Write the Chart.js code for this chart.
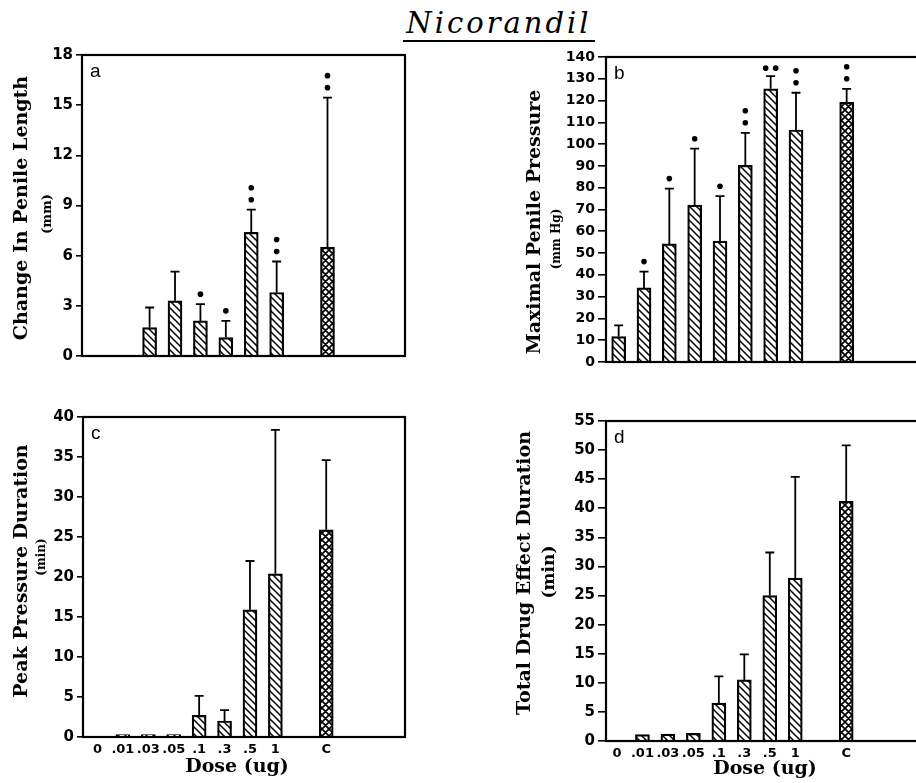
<!DOCTYPE html>
<html>
<head>
<meta charset="utf-8">
<script src="https://cdn.jsdelivr.net/npm/chart.js@4.4.1/dist/chart.umd.min.js"></script>
<style>
html, body { margin: 0; padding: 0; background: #fff; width: 916px; height: 783px; overflow: hidden; }
canvas { position: absolute; }
#title {
  position: absolute; left: 403px; top: 6px; width: 192px; text-align: center;
  font: italic 29px "DejaVu Serif", serif; color: #000; line-height: 34px;
  border-bottom: 2.5px solid #000; letter-spacing: 3px;
}
</style>
</head>
<body>
<div id="title">Nicorandil</div>
<canvas id="panelA" width="460" height="350" style="left:0;top:40px"></canvas>
<canvas id="panelB" width="480" height="350" style="left:460px;top:40px"></canvas>
<canvas id="panelC" width="460" height="383" style="left:0;top:400px"></canvas>
<canvas id="panelD" width="480" height="383" style="left:460px;top:400px"></canvas>
<script>
// x positions: doses 0..7, one empty slot, then control C
const doseLabels = ['0', '.01', '.03', '.05', '.1', '.3', '.5', '1', '', 'C'];
const barSlots = [0, 1, 2, 3, 4, 5, 6, 7, 9];

// a - change in penile length (mm)
const lengthMean = [null, null, 1.7, 3.3, 2.1, 1.1, 7.4, 3.8, 6.5];
const lengthErr = [null, null, 2.9, 5.05, 3.1, 2.1, 8.75, 5.65, 15.45];
const lengthStars = [0, 0, 0, 0, 1, 1, 2, 2, 2];

// b - maximal penile pressure (mm Hg)
const pressureMean = [11.7, 34, 54.2, 72, 55.5, 90.3, 125.4, 106.5, 119.2];
const pressureErr = [16.8, 41.5, 79.6, 97.9, 76.1, 105.2, 131.2, 123.6, 125.4];
const pressureStars = [0, 1, 1, 1, 1, 2, 2, 2, 2];
const pressureStarsSideBySide = [false, false, false, false, false, false, true, false, false];

// c - peak pressure duration (min)
const peakMean = [null, 0.3, 0.3, 0.3, 2.7, 2.0, 15.9, 20.4, 25.9];
const peakErr = [null, null, null, null, 5.15, 3.35, 22.0, 38.4, 34.6];

// d - total drug effect duration (min)
const totalMean = [null, 1.1, 1.2, 1.3, 6.5, 10.5, 25.0, 28.0, 41.2];
const totalErr = [null, null, null, null, 11.1, 14.9, 32.4, 45.4, 50.8];

function makePattern(cross) {
  const s = 7;
  const c = document.createElement('canvas');
  c.width = s; c.height = s;
  const g = c.getContext('2d');
  g.fillStyle = '#fff';
  g.fillRect(0, 0, s, s);
  g.strokeStyle = '#000';
  g.lineWidth = cross ? 1.7 : 1.5;
  g.beginPath();
  g.moveTo(-1, -1); g.lineTo(s + 1, s + 1);
  g.moveTo(-1, s - 1); g.lineTo(1, s + 1);
  g.moveTo(s - 1, -1); g.lineTo(s + 1, 1);
  if (cross) {
    g.moveTo(s + 1, -1); g.lineTo(-1, s + 1);
    g.moveTo(-1, 1); g.lineTo(1, -1);
    g.moveTo(s - 1, s + 1); g.lineTo(s + 1, s - 1);
  }
  g.stroke();
  return g.createPattern(c, 'repeat');
}
const doseFill = makePattern(false);
const ctrlFill = makePattern(true);

const tickFont = { family: '"DejaVu Sans", sans-serif', weight: 'bold', size: 15 };
const titleFont = 'bold 19px "DejaVu Serif", serif';

function makeChart(id, p) {
  const canvas = document.getElementById(id);
  const W = canvas.width, H = canvas.height;
  const pts = [];
  p.means.forEach((m, i) => { if (m != null) pts.push({ x: barSlots[i], y: m }); });
  const fills = [];
  p.means.forEach((m, i) => { if (m != null) fills.push(barSlots[i] === 9 ? ctrlFill : doseFill); });

  const deco = {
    id: 'deco',
    afterDatasetsDraw(chart) {
      const { ctx, chartArea: a, scales: { x, y } } = chart;
      ctx.save();
      ctx.strokeStyle = '#000';
      ctx.fillStyle = '#000';
      // error bars (upper only) and significance dots
      p.means.forEach((m, i) => {
        if (m == null) return;
        const cx = x.getPixelForValue(barSlots[i]);
        let top = y.getPixelForValue(m);
        const e = p.errs[i];
        if (e != null) {
          const ye = y.getPixelForValue(e);
          ctx.lineWidth = 1.8;
          ctx.beginPath();
          ctx.moveTo(cx, top); ctx.lineTo(cx, ye);
          ctx.moveTo(cx - 4.5, ye); ctx.lineTo(cx + 4.5, ye);
          ctx.stroke();
          top = ye;
        }
        const n = p.stars ? p.stars[i] : 0;
        for (let k = 0; k < n; k++) {
          let sx = cx, sy = top - 10 - k * 12;
          if (p.side && p.side[i]) { sx = cx - 5 + k * 10; sy = top - 8; }
          ctx.beginPath();
          ctx.arc(sx, sy, 2.8, 0, Math.PI * 2);
          ctx.fill();
        }
      });
      // frame
      ctx.lineWidth = 2.2;
      ctx.strokeRect(a.left, a.top, a.right - a.left, a.bottom - a.top);
      // panel letter
      ctx.font = '19px "Liberation Sans Narrow", "Liberation Sans", sans-serif';
      ctx.textAlign = 'left';
      ctx.textBaseline = 'top';
      ctx.fillText(p.letter, a.left + 8, a.top + 7);
      // y titles
      ctx.textAlign = 'center';
      ctx.textBaseline = 'middle';
      ctx.save();
      ctx.translate(p.titleX, p.titleY);
      ctx.rotate(-Math.PI / 2);
      ctx.font = titleFont;
      ctx.fillText(p.yTitle, 0, 0);
      ctx.restore();
      ctx.save();
      ctx.translate(p.unitX, p.unitY);
      ctx.rotate(-Math.PI / 2);
      ctx.font = 'bold ' + p.unitSize + 'px "DejaVu Serif", serif';
      ctx.fillText(p.yUnit, 0, 0);
      ctx.restore();
      if (p.showX) {
        ctx.font = 'bold 19px "DejaVu Serif", serif';
        ctx.fillText('Dose (ug)', p.doseX, p.doseY);
      }
      ctx.restore();
    }
  };

  return new Chart(canvas, {
    type: 'bar',
    data: {
      datasets: [{
        data: pts,
        backgroundColor: fills,
        borderColor: '#000',
        borderWidth: 2.2,
        barThickness: 14
      }]
    },
    options: {
      responsive: false,
      animation: false,
      devicePixelRatio: 1,
      layout: { padding: { left: 0, top: p.area.t, right: W - p.area.r, bottom: p.showX ? 0 : H - p.area.b } },
      plugins: { legend: { display: false }, tooltip: { enabled: false } },
      scales: {
        x: {
          type: 'linear',
          display: p.showX,
          offset: false,
          min: p.xMin,
          max: p.xMax,
          grid: { display: false, drawTicks: false, offset: false },
          border: { display: false },
          ticks: {
            stepSize: 1,
            autoSkip: false,
            maxRotation: 0,
            includeBounds: false,
            padding: 5,
            color: '#000',
            font: { family: '"DejaVu Sans", sans-serif', weight: 'bold', size: 13 },
            callback: v => (Number.isInteger(v) && doseLabels[v] !== undefined) ? doseLabels[v] : ''
          },
          afterFit: s => { s.height = H - p.area.b; }
        },
        y: {
          min: 0,
          max: p.yMax,
          grid: { drawOnChartArea: false, drawTicks: true, tickLength: p.tickLen, color: '#000', lineWidth: 1.6 },
          border: { display: false },
          ticks: { stepSize: p.yStep, autoSkip: false, padding: 3, color: '#000', font: { ...tickFont, size: p.tickSize } },
          afterFit: s => { s.width = p.area.l; }
        }
      }
    },
    plugins: [deco]
  });
}

makeChart('panelA', {
  area: { l: 82, t: 15, r: 405, b: 333 },
  xMin: -0.66, xMax: 12.05, yMax: 18, yStep: 3, tickLen: 6, tickSize: 15,
  means: lengthMean, errs: lengthErr, stars: lengthStars,
  letter: 'a', showX: false,
  yTitle: 'Change In Penile Length', titleX: 22, titleY: 168,
  yUnit: '(mm)', unitX: 48, unitY: 174, unitSize: 13
});

makeChart('panelB', {
  area: { l: 146, t: 17, r: 469, b: 336 },
  xMin: -0.5, xMax: 12.25, yMax: 140, yStep: 10, tickLen: 8, tickSize: 14,
  means: pressureMean, errs: pressureErr, stars: pressureStars, side: pressureStarsSideBySide,
  letter: 'b', showX: false,
  yTitle: 'Maximal Penile Pressure', titleX: 75, titleY: 182,
  yUnit: '(mm Hg)', unitX: 97, unitY: 199, unitSize: 12
});

makeChart('panelC', {
  area: { l: 83, t: 17, r: 405, b: 337 },
  xMin: -0.57, xMax: 12.1, yMax: 40, yStep: 5, tickLen: 6, tickSize: 15,
  means: peakMean, errs: peakErr, stars: null,
  letter: 'c', showX: true, doseX: 237, doseY: 367,
  yTitle: 'Peak Pressure Duration', titleX: 22, titleY: 171,
  yUnit: '(min)', unitX: 42, unitY: 157, unitSize: 12
});

makeChart('panelD', {
  area: { l: 146, t: 21, r: 469, b: 341 },
  xMin: -0.43, xMax: 12.25, yMax: 55, yStep: 5, tickLen: 8, tickSize: 15,
  means: totalMean, errs: totalErr, stars: null,
  letter: 'd', showX: true, doseX: 305, doseY: 369,
  yTitle: 'Total Drug Effect Duration', titleX: 65, titleY: 173,
  yUnit: '(min)', unitX: 90, unitY: 172, unitSize: 17
});
</script>
</body>
</html>
